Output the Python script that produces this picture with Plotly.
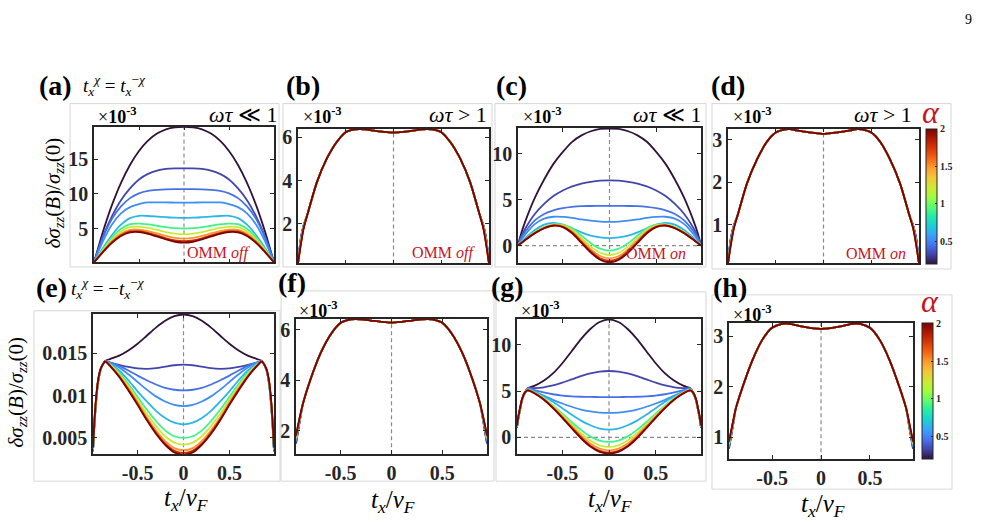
import plotly.graph_objects as go
from plotly.colors import sample_colorscale

W, H = 998, 522
FONT = "Liberation Serif"
INK = "#262626"
RED = "#c8141e"

# alpha values of the ten curves
alphas = [0.2, 0.33, 0.45, 0.53, 0.64, 0.9, 1.2, 1.5, 1.78, 2.0]
cb_range = [0.2, 2.0]

# ---------- panel (a): t^chi = t^-chi, omega tau << 1, OMM off (x 1e-3), half curves x>=0
xa_half = [0, 0.1, 0.2, 0.3, 0.4, 0.5, 0.6, 0.7, 0.8, 0.9, 0.95, 1.0]
a_curves = [
    [19.7, 19.64, 19.35, 18.73, 17.71, 16.22, 14.2, 11.62, 8.42, 4.57, 2.37, 0.1],
    [13.7, 13.69, 13.62, 13.38, 12.9, 12.1, 10.8, 9.1, 6.8, 3.9, 2.1, 0.1],
    [10.7, 10.7, 10.68, 10.6, 10.45, 10.1, 9.4, 8.2, 6.4, 3.7, 2.0, 0.1],
    [8.75, 8.76, 8.78, 8.8, 8.78, 8.55, 8.1, 7.2, 5.6, 3.2, 1.7, 0.1],
    [6.54, 6.57, 6.65, 6.74, 6.82, 6.85, 6.52, 5.56, 4.07, 2.19, 1.15, 0.1],
    [5.0, 5.06, 5.21, 5.41, 5.6, 5.71, 5.64, 4.97, 3.71, 2.02, 1.08, 0.1],
    [4.18, 4.27, 4.5, 4.81, 5.09, 5.26, 5.2, 4.59, 3.43, 1.87, 1.0, 0.1],
    [3.56, 3.66, 3.95, 4.31, 4.65, 4.85, 4.81, 4.24, 3.17, 1.73, 0.93, 0.1],
    [3.17, 3.29, 3.6, 4.02, 4.39, 4.62, 4.58, 4.04, 3.03, 1.66, 0.89, 0.1],
    [2.98, 3.1, 3.43, 3.86, 4.25, 4.49, 4.45, 3.93, 2.94, 1.61, 0.87, 0.1],
]

# ---------- panel (b): omega tau > 1, OMM off (x 1e-3)
xb_half = [0, 0.1, 0.2, 0.3, 0.35, 0.4, 0.5, 0.6, 0.7, 0.8, 0.9, 0.94, 0.97, 1.0]
b_base = [6.22, 6.25, 6.31, 6.37, 6.38, 6.37, 6.24, 5.75, 5.0, 3.95, 2.45, 1.8, 1.05, 0.16]
b_edge94 = [1.95, 1.93, 1.92, 1.9, 1.88, 1.87, 1.85, 1.83, 1.82, 1.8]
b_edge97 = [1.35, 1.32, 1.28, 1.25, 1.22, 1.18, 1.15, 1.12, 1.08, 1.05]

# ---------- panel (c): omega tau << 1, OMM on (x 1e-3)
xc_half = [0, 0.1, 0.2, 0.3, 0.4, 0.5, 0.6, 0.7, 0.8, 0.9, 0.95, 0.98]
c_curves = [
    [12.75, 12.7, 12.45, 12.0, 11.3, 10.2, 8.9, 7.2, 5.2, 2.7, 1.2, 0.05],
    [7.1, 7.07, 6.95, 6.75, 6.45, 6.0, 5.4, 4.55, 3.45, 1.9, 0.9, 0.05],
    [4.33, 4.33, 4.32, 4.3, 4.22, 4.08, 3.85, 3.45, 2.75, 1.55, 0.75, 0.05],
    [2.6, 2.63, 2.72, 2.86, 3.02, 3.13, 3.15, 2.95, 2.35, 1.25, 0.55, 0.05],
    [0.83, 0.9, 1.1, 1.45, 1.9, 2.3, 2.48, 2.3, 1.7, 0.85, 0.35, 0.05],
    [-0.54, -0.32, 0.28, 1.1, 1.9, 2.3, 2.33, 2.05, 1.48, 0.7, 0.29, 0.05],
    [-1.01, -0.77, -0.1, 0.82, 1.72, 2.2, 2.28, 2.0, 1.44, 0.68, 0.28, 0.05],
    [-1.37, -1.12, -0.4, 0.58, 1.55, 2.12, 2.23, 1.95, 1.4, 0.66, 0.27, 0.05],
    [-1.62, -1.36, -0.6, 0.42, 1.43, 2.06, 2.2, 1.92, 1.37, 0.65, 0.26, 0.05],
    [-1.8, -1.52, -0.75, 0.3, 1.35, 2.02, 2.18, 1.9, 1.36, 0.64, 0.25, 0.05],
]

# ---------- panel (d): omega tau > 1, OMM on (x 1e-3)
d_base = [3.14, 3.16, 3.19, 3.23, 3.25, 3.245, 3.17, 2.93, 2.52, 1.98, 1.22, 0.9, 0.53, 0.09]
d_edge94 = [0.98, 0.97, 0.96, 0.95, 0.94, 0.94, 0.93, 0.92, 0.91, 0.9]
d_edge97 = [0.7, 0.68, 0.66, 0.64, 0.62, 0.6, 0.58, 0.56, 0.55, 0.53]

# ---------- panel (e): t^chi = -t^-chi, omega tau << 1, OMM off (values in 1e-3)
xe_half = [0, 0.1, 0.2, 0.3, 0.4, 0.5, 0.6, 0.7, 0.8, 0.85, 0.9, 0.93, 0.95, 0.97, 0.985]
e_curves = [
    [19.55, 19.35, 18.8, 18.0, 17.05, 16.1, 15.3, 14.7, 14.3, 14.1, 13.10, 11.50, 9.40, 6.40, 3.40],
    [13.63, 13.57, 13.4, 13.22, 13.15, 13.2, 13.38, 13.62, 13.88, 14.0, 13.11, 11.53, 9.46, 6.47, 3.46],
    [10.6, 10.68, 10.9, 11.3, 11.8, 12.35, 12.95, 13.5, 13.9, 14.0, 13.12, 11.57, 9.51, 6.53, 3.51],
    [8.76, 8.9, 9.3, 9.9, 10.7, 11.6, 12.5, 13.3, 13.85, 14.0, 13.13, 11.60, 9.57, 6.60, 3.57],
    [6.6, 6.8, 7.35, 8.2, 9.3, 10.5, 11.8, 12.95, 13.75, 14.0, 13.14, 11.63, 9.62, 6.67, 3.62],
    [5.0, 5.2, 5.9, 7.0, 8.35, 9.85, 11.35, 12.7, 13.65, 14.0, 13.16, 11.67, 9.68, 6.73, 3.68],
    [4.22, 4.45, 5.2, 6.4, 7.85, 9.5, 11.1, 12.5, 13.6, 14.0, 13.17, 11.70, 9.73, 6.80, 3.73],
    [3.55, 3.8, 4.65, 5.9, 7.45, 9.2, 10.85, 12.35, 13.55, 14.0, 13.18, 11.73, 9.79, 6.87, 3.79],
    [3.24, 3.5, 4.35, 5.65, 7.2, 9.0, 10.7, 12.25, 13.5, 14.0, 13.19, 11.77, 9.84, 6.93, 3.84],
    [3.04, 3.3, 4.2, 5.5, 7.1, 8.9, 10.6, 12.2, 13.5, 14.0, 13.20, 11.80, 9.90, 7.00, 3.90],
]

# ---------- panel (f): omega tau > 1, OMM off (x 1e-3)
xf_half = [0, 0.1, 0.2, 0.3, 0.35, 0.4, 0.5, 0.6, 0.7, 0.8, 0.87, 0.9, 0.94]
f_base = [6.28, 6.31, 6.36, 6.41, 6.42, 6.41, 6.27, 5.8, 5.05, 4.0, 3.1, 2.6, 1.83]
f_edge90 = [2.45, 2.47, 2.49, 2.5, 2.52, 2.54, 2.55, 2.57, 2.58, 2.6]
f_edge94 = [1.5, 1.54, 1.58, 1.62, 1.66, 1.7, 1.73, 1.77, 1.8, 1.83]

# ---------- panel (g): omega tau << 1, OMM on (x 1e-3)
xg_half = [0, 0.1, 0.2, 0.3, 0.4, 0.5, 0.6, 0.7, 0.8, 0.87, 0.9, 0.93, 0.95, 0.97, 0.985]
g_curves = [
    [12.73, 12.45, 11.7, 10.6, 9.3, 8.0, 6.9, 6.1, 5.55, 5.3, 4.80, 4.05, 3.10, 2.05, 1.05],
    [7.16, 7.1, 6.9, 6.6, 6.25, 5.9, 5.6, 5.4, 5.32, 5.3, 4.81, 4.07, 3.12, 2.08, 1.08],
    [4.35, 4.35, 4.36, 4.38, 4.42, 4.5, 4.65, 4.85, 5.1, 5.3, 4.82, 4.08, 3.14, 2.11, 1.11],
    [2.63, 2.67, 2.8, 3.0, 3.3, 3.65, 4.05, 4.5, 4.95, 5.25, 4.82, 4.10, 3.17, 2.13, 1.13],
    [0.83, 0.95, 1.3, 1.8, 2.45, 3.15, 3.85, 4.45, 4.95, 5.2, 4.83, 4.12, 3.19, 2.16, 1.16],
    [-0.5, -0.35, 0.1, 0.8, 1.65, 2.55, 3.45, 4.25, 4.85, 5.15, 4.83, 4.13, 3.21, 2.19, 1.19],
    [-1.04, -0.87, -0.35, 0.45, 1.4, 2.4, 3.35, 4.2, 4.83, 5.12, 4.84, 4.15, 3.23, 2.22, 1.22],
    [-1.4, -1.22, -0.68, 0.2, 1.2, 2.25, 3.25, 4.15, 4.8, 5.1, 4.84, 4.17, 3.26, 2.24, 1.24],
    [-1.65, -1.46, -0.9, 0.0, 1.05, 2.15, 3.2, 4.1, 4.78, 5.08, 4.85, 4.18, 3.28, 2.27, 1.27],
    [-1.76, -1.57, -1.0, -0.1, 0.98, 2.1, 3.15, 4.08, 4.76, 5.07, 4.85, 4.20, 3.30, 2.30, 1.30],
]

# ---------- panel (h): omega tau > 1, OMM on (x 1e-3)
h_base = [3.15, 3.165, 3.2, 3.245, 3.255, 3.25, 3.17, 2.93, 2.53, 2.0, 1.57, 1.3, 0.92]
h_edge90 = [1.22, 1.23, 1.24, 1.25, 1.26, 1.27, 1.27, 1.28, 1.29, 1.3]
h_edge94 = [0.77, 0.79, 0.8, 0.82, 0.84, 0.86, 0.87, 0.89, 0.9, 0.92]

x_ticks = [-0.5, 0, 0.5]
x_ticktext = ["-0.5", "0", "0.5"]
cb_ticks = [0.5, 1, 1.5, 2]
cb_ticktext = ["0.5", "1", "1.5", "2"]


def with_edges(base, ea, eb, keep_last):
    out = []
    for i in range(len(alphas)):
        c = list(base)
        if keep_last:
            c[-3], c[-2] = ea[i], eb[i]
        else:
            c[-2], c[-1] = ea[i], eb[i]
        out.append(c)
    return out


b_curves = with_edges(b_base, b_edge94, b_edge97, True)
d_curves = with_edges(d_base, d_edge94, d_edge97, True)
f_curves = with_edges(f_base, f_edge90, f_edge94, False)
h_curves = with_edges(h_base, h_edge90, h_edge94, False)


def mirror(xh, yh):
    x = [-v for v in reversed(xh[1:])] + list(xh)
    y = list(reversed(yh[1:])) + list(yh)
    return x, y


colors = sample_colorscale("Turbo", [(a - cb_range[0]) / (cb_range[1] - cb_range[0]) for a in alphas])

# box: left, top, right, bottom in px
panels = [
    dict(x=xa_half, c=a_curves, box=(94, 125, 274, 261.5), xr=[-1, 1], yr=[0.1, 19.75], yt=[5, 10, 15], sc=1, xl=False),
    dict(x=xb_half, c=b_curves, box=(298, 127, 489, 262.5), xr=[-1, 1], yr=[0.16, 6.41], yt=[2, 4, 6], sc=1, xl=False),
    dict(x=xc_half, c=c_curves, box=(518, 126.5, 701, 262), xr=[-0.98, 0.98], yr=[-1.88, 12.8], yt=[0, 5, 10], sc=1, xl=False, h0=True),
    dict(x=xb_half, c=d_curves, box=(728, 127, 919, 262.5), xr=[-1, 1], yr=[0.09, 3.265], yt=[1, 2, 3], sc=1, xl=False),
    dict(x=xe_half, c=e_curves, box=(93, 313, 274, 454), xr=[-0.985, 0.985], yr=[0.00308, 0.01963], yt=[0.005, 0.01, 0.015], sc=1e-3, xl=True),
    dict(x=xf_half, c=f_curves, box=(296, 318, 487, 454), xr=[-0.94, 0.94], yr=[1.08, 6.43], yt=[2, 4, 6], sc=1, xl=True),
    dict(x=xg_half, c=g_curves, box=(517, 318, 701, 454), xr=[-0.985, 0.985], yr=[-1.83, 12.8], yt=[0, 5, 10], sc=1, xl=True, h0=True),
    dict(x=xf_half, c=h_curves, box=(729, 322, 913, 459), xr=[-0.94, 0.94], yr=[0.56, 3.27], yt=[1, 2, 3], sc=1, xl=True),
]


def PX(v):
    return v / W


def PY(v):
    return 1 - v / H


fig = go.Figure()
layout = dict(
    width=W, height=H, margin=dict(l=0, r=0, t=0, b=0),
    paper_bgcolor="white", plot_bgcolor="white", showlegend=False,
    font=dict(family=FONT, color=INK),
)
shapes = []
annotations = []

tickfont = dict(family=FONT, size=20, color=INK, weight="bold")

for k, p in enumerate(panels, start=1):
    sx = "" if k == 1 else str(k)
    l, t, r, b = p["box"]
    layout["xaxis" + sx] = dict(
        domain=[PX(l), PX(r)], anchor="y" + sx, range=p["xr"],
        tickvals=x_ticks, ticktext=x_ticktext, showticklabels=p["xl"],
        ticks="inside", ticklen=4, tickwidth=1, tickcolor=INK,
        showline=True, linecolor=INK, linewidth=1.6, mirror="ticks",
        showgrid=False, zeroline=False, tickfont=tickfont,
    )
    layout["yaxis" + sx] = dict(
        domain=[PY(b), PY(t)], anchor="x" + sx, range=p["yr"],
        tickvals=p["yt"], ticks="inside", ticklen=4, tickwidth=1, tickcolor=INK,
        showline=True, linecolor=INK, linewidth=1.6, mirror="ticks",
        showgrid=False, zeroline=False, tickfont=tickfont,
    )
    shapes.append(dict(type="line", xref="x" + sx, yref="y" + sx + " domain", x0=0, x1=0, y0=0, y1=1,
                       line=dict(color="#8a8a8a", width=1.2, dash="4px,3px"), layer="below"))
    if p.get("h0"):
        shapes.append(dict(type="line", xref="x" + sx + " domain", yref="y" + sx, x0=0, x1=1, y0=0, y1=0,
                           line=dict(color="#8a8a8a", width=1.2, dash="4px,3px"), layer="below"))
    for i, curve in enumerate(p["c"]):
        xx, yy = mirror(p["x"], curve)
        yy = [v * p["sc"] for v in yy]
        fig.add_trace(go.Scatter(
            x=xx, y=yy, mode="lines", xaxis="x" + sx, yaxis="y" + sx,
            line=dict(color=colors[i], width=1.8, shape="spline", smoothing=0.8),
            hoverinfo="skip", showlegend=False,
        ))

# colour bars (alpha)
for k, (l, t, b) in [(4, (926, 127, 263)), (8, (922, 322, 459))]:
    fig.add_trace(go.Scatter(
        x=[None, None], y=[None, None], mode="markers", xaxis="x%d" % k, yaxis="y%d" % k,
        marker=dict(color=cb_range, cmin=cb_range[0], cmax=cb_range[1], colorscale="Turbo",
                    showscale=True,
                    colorbar=dict(x=PX(l), xanchor="left", y=PY(b), yanchor="bottom",
                                  len=(b - t) / H, lenmode="fraction", thickness=11,
                                  xpad=0, ypad=0, outlinewidth=1, outlinecolor=INK,
                                  tickvals=cb_ticks, ticktext=cb_ticktext,
                                  ticks="inside", ticklen=2, tickcolor=INK,
                                  tickfont=dict(family=FONT, size=10, color=INK, weight="bold"))),
        hoverinfo="skip", showlegend=False,
    ))

# light figure frames
frames = [(70, 102, 279, 266), (283, 102, 492, 266), (495, 102, 706, 266), (712, 102, 951, 268),
          (34, 310, 280, 481), (281, 290, 494, 481), (496, 291, 706, 481), (712, 294, 952, 489)]
for (x0, y0, x1, y1) in frames:
    shapes.append(dict(type="rect", xref="paper", yref="paper", x0=PX(x0), x1=PX(x1), y0=PY(y1), y1=PY(y0),
                       line=dict(color="#d6d6d6", width=1), fillcolor="rgba(0,0,0,0)", layer="below"))


def ann(text, x, y, size, xanchor="center", color="black", angle=0, yanchor="middle"):
    annotations.append(dict(text=text, x=PX(x), y=PY(y), xref="paper", yref="paper",
                            xanchor=xanchor, yanchor=yanchor, showarrow=False, textangle=angle,
                            font=dict(family=FONT, size=size, color=color)))


ann("9", 968, 18, 14)
labels = [("(a)", 37, 84), ("(b)", 284, 84), ("(c)", 494, 84), ("(d)", 709, 84),
          ("(e)", 34, 287), ("(f)", 276, 282), ("(g)", 489, 286), ("(h)", 711, 287)]
for txt, x, y in labels:
    ann("<b>%s</b>" % txt, x, y, 28, xanchor="left")

ann("<i>t</i><sub><i>x</i></sub><sup><i>χ</i></sup> = <i>t</i><sub><i>x</i></sub><sup>−<i>χ</i></sup>", 81, 84, 19, xanchor="left")
ann("<i>t</i><sub><i>x</i></sub><sup><i>χ</i></sup> = −<i>t</i><sub><i>x</i></sub><sup>−<i>χ</i></sup>", 69, 288, 19, xanchor="left")

sci = "×<b>10</b><sup><b>-3</b></sup>"
for x, y in [(96, 114), (301, 114), (521, 114), (731, 114), (297, 309), (519, 309), (731, 313)]:
    ann(sci, x, y, 18, xanchor="left")

for txt, x in [("<i>ωτ</i> ≪ 1", 279), ("<i>ωτ</i> > 1", 489), ("<i>ωτ</i> ≪ 1", 703), ("<i>ωτ</i> > 1", 914)]:
    ann(txt, x, 113, 22, xanchor="right")

for txt, x in [("OMM <i>off</i>", 252), ("OMM <i>off</i>", 477), ("OMM <i>on</i>", 688), ("OMM <i>on</i>", 908)]:
    ann(txt, x, 252, 16, xanchor="right", color=RED)

ann("<i>α</i>", 931, 110, 32, color=RED)
ann("<i>α</i>", 930, 300, 32, color=RED)

ylab = "<i>δσ</i><sub><i>zz</i></sub>(<i>B</i>)/<i>σ</i><sub><i>zz</i></sub>(0)"
ann(ylab, 54, 192, 21, angle=-90)
ann(ylab, 17, 392, 21, angle=-90)

xlab = "<i>t</i><sub><i>x</i></sub>/<i>v</i><sub><i>F</i></sub>"
for x, y in [(186, 499), (393, 501), (610, 500), (823, 505)]:
    ann(xlab, x, y, 25)

layout["shapes"] = shapes
layout["annotations"] = annotations
fig.update_layout(**layout)
fig.write_html("out.html")
